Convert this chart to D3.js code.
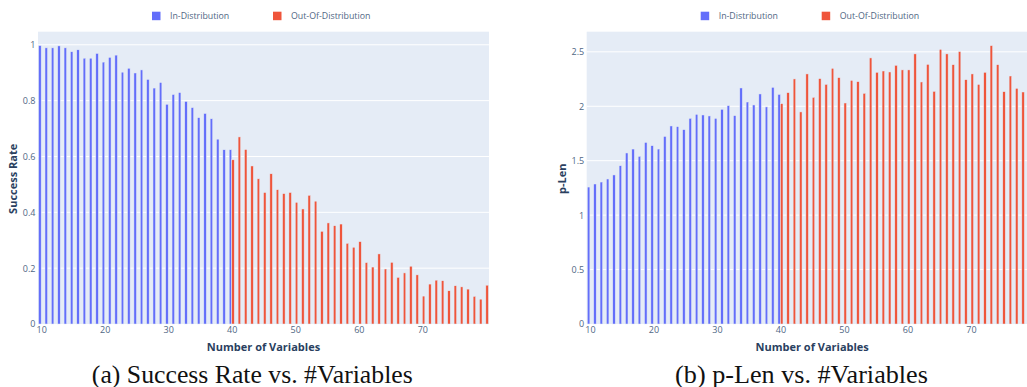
<!DOCTYPE html>
<html>
<head>
<meta charset="utf-8">
<script src="https://cdn.jsdelivr.net/npm/d3@7"></script>
<style>
body { margin: 0; background: #fff; }
svg text { font-family: "Open Sans", "Noto Sans", sans-serif; }
</style>
</head>
<body>
<svg id="chart" width="1027" height="387"></svg>
<script>
// number of variables (x) for each trace
var varsIn = [10,11,12,13,14,15,16,17,18,19,20,21,22,23,24,25,26,27,28,29,30,31,32,33,34,35,36,37,38,39,40];
var varsOut = [40,41,42,43,44,45,46,47,48,49,50,51,52,53,54,55,56,57,58,59,60,61,62,63,64,65,66,67,68,69,70,71,72,73,74,75,76,77,78,79,80];

// success rate
var successIn = [0.997,0.989,0.989,0.996,0.989,0.975,0.982,0.952,0.952,0.969,0.938,0.955,0.963,0.902,0.916,0.899,0.910,0.876,0.845,0.865,0.787,0.822,0.829,0.797,0.775,0.739,0.754,0.735,0.662,0.624,0.624];
var successOut = [0.588,0.670,0.625,0.566,0.520,0.471,0.538,0.481,0.467,0.471,0.436,0.412,0.461,0.440,0.332,0.362,0.352,0.358,0.289,0.275,0.295,0.220,0.204,0.251,0.197,0.221,0.167,0.183,0.207,0.176,0.100,0.143,0.157,0.155,0.119,0.137,0.133,0.125,0.099,0.089,0.139];

// p-Len
var plenIn = [1.258,1.286,1.304,1.332,1.369,1.454,1.571,1.607,1.540,1.668,1.638,1.607,1.723,1.819,1.813,1.785,1.889,1.926,1.920,1.911,1.889,1.972,2.006,1.914,2.168,2.039,2.012,2.113,1.994,2.174,2.109];
var plenOut = [2.024,2.125,2.251,1.948,2.297,2.082,2.254,2.201,2.349,2.263,2.030,2.238,2.226,2.119,2.444,2.312,2.324,2.315,2.376,2.334,2.334,2.481,2.223,2.385,2.137,2.523,2.481,2.382,2.502,2.244,2.297,2.201,2.312,2.557,2.382,2.134,2.278,2.165,2.131,2.15,2.12];

var xTicks = [10,20,30,40,50,60,70];
var successTicks = [0,0.2,0.4,0.6,0.8,1];
var plenTicks = [0,0.5,1,1.5,2,2.5];
var seriesNames = ["In-Distribution", "Out-Of-Distribution"];

var blue = "#636efa", red = "#EF553B", ink = "#2a3f5f";
var svg = d3.select("#chart");

function drawPanel(left, inVals, outVals, yTicks, yTitle, caption) {
	var top = 31.7, bottom = 324, width = 451;
	var g = svg.append("g");
	var x = d3.scaleLinear().domain([9.5, 80.5]).range([left, left + width]);
	var ymax = d3.max(inVals.concat(outVals)) * 1.05;
	var y = d3.scaleLinear().domain([0, ymax]).range([bottom, top]);
	var unit = x(11) - x(10);
	var bw = unit * 0.8 / 2;

	g.append("rect")
		.attr("x", left).attr("y", top)
		.attr("width", width).attr("height", bottom - top)
		.attr("fill", "#E5ECF6");

	// y grid
	g.selectAll(".grid")
		.data(yTicks.slice(1))
		.enter().append("line")
		.attr("x1", left).attr("x2", left + width)
		.attr("y1", function(d){ return y(d); })
		.attr("y2", function(d){ return y(d); })
		.attr("stroke", "#fff").attr("stroke-width", 1);

	var traces = [
		{vals: varsIn, data: inVals, color: blue, off: -bw / 2},
		{vals: varsOut, data: outVals, color: red, off: bw / 2}
	];
	traces.forEach(function(t){
		g.append("g").selectAll("rect")
			.data(t.data)
			.enter().append("rect")
			.attr("x", function(d, i){ return x(t.vals[i]) + t.off - bw / 2; })
			.attr("y", function(d){ return y(d); })
			.attr("width", bw)
			.attr("height", function(d){ return bottom - y(d); })
			.attr("fill", t.color)
			.attr("stroke", "#E5ECF6").attr("stroke-width", 0.5);
	});

	// axes
	var xa = g.append("g")
		.attr("transform", "translate(0," + bottom + ")")
		.call(d3.axisBottom(x).tickValues(xTicks).tickSize(0).tickPadding(3));
	xa.select(".domain").remove();
	xa.selectAll("text").attr("fill", "#506784").style("font-size", "9px");

	var ya = g.append("g")
		.attr("transform", "translate(" + left + ",0)")
		.call(d3.axisLeft(y).tickValues(yTicks).tickFormat(d3.format("~g")).tickSize(0).tickPadding(2.5));
	ya.select(".domain").remove();
	ya.selectAll("text").attr("fill", "#506784").style("font-size", "9px");

	g.append("text")
		.attr("x", left + width / 2).attr("y", 350.5)
		.attr("text-anchor", "middle")
		.attr("fill", ink).style("font-size", "11px").style("font-weight", "bold")
		.text("Number of Variables");
	g.append("text")
		.attr("transform", "translate(" + (left - 25) + "," + ((top + bottom) / 2 + 1) + ") rotate(-90)")
		.attr("text-anchor", "middle").attr("dy", "0.35em")
		.attr("fill", ink).style("font-size", "11px").style("font-weight", "bold")
		.text(yTitle);

	// legend
	var lx = [left + 114, left + 235];
	seriesNames.forEach(function(name, i){
		g.append("rect")
			.attr("x", lx[i]).attr("y", 11.7)
			.attr("width", 8.5).attr("height", 8.5)
			.attr("fill", i == 0 ? blue : red);
		g.append("text")
			.attr("x", lx[i] + 18).attr("y", 19)
			.attr("fill", "#506784").style("font-size", "8.8px")
			.text(name);
	});

	var cap = g.append("text")
		.attr("x", caption.cx).attr("y", 382.5)
		.attr("text-anchor", "middle")
		.attr("fill", "#111")
		.style("font-family", "'Liberation Serif', serif")
		.style("font-size", "20px")
		.text(caption.text);
	// fit the caption to its width in the picture
	var len = cap.node().getComputedTextLength();
	cap.style("font-size", (20 * caption.w / len) + "px");
}

drawPanel(38, successIn, successOut, successTicks, "Success Rate", {text: "(a) Success Rate vs. #Variables", cx: 252.3, w: 321});
drawPanel(586.7, plenIn, plenOut, plenTicks, "p-Len", {text: "(b) p-Len vs. #Variables", cx: 801.5, w: 253});
</script>
</body>
</html>
